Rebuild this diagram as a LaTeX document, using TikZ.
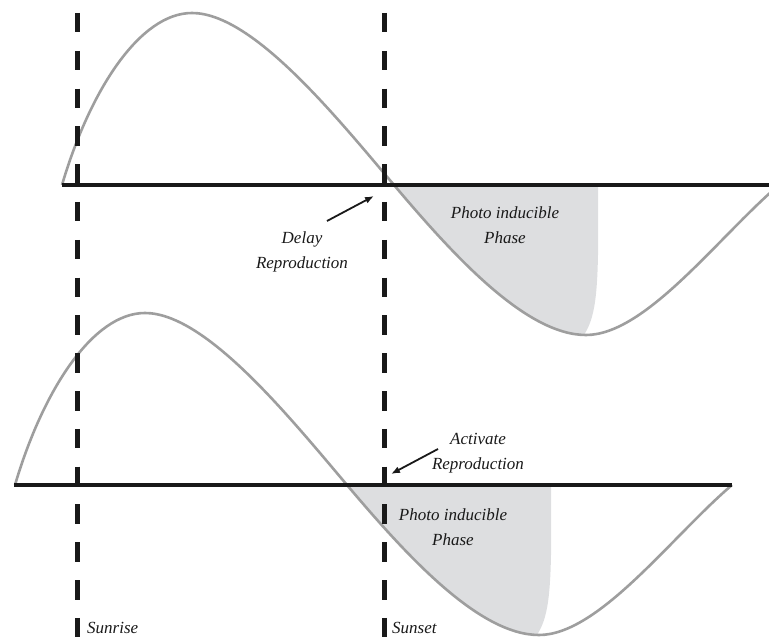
\documentclass[tikz,border=0pt]{standalone}
\usepackage{fontspec}
\setmainfont{Liberation Serif}
\usetikzlibrary{arrows.meta}
\definecolor{curvegray}{RGB}{158,158,158}
\definecolor{fillgray}{RGB}{221,222,224}
\definecolor{ink}{RGB}{25,25,25}
\begin{document}
\begin{tikzpicture}[x=1pt,y=-1pt,
  wavecurve/.style={draw=curvegray,line width=2.6pt},
  axisline/.style={draw=ink,line width=4.6pt},
  daylimit/.style={draw=ink,line width=5pt,dash pattern=on 19.5pt off 18.3pt},
  callout/.style={draw=ink,line width=1.8pt,-{Latex[length=9pt,width=7pt]}},
  lbl/.style={font=\fontsize{17}{25}\selectfont\itshape,text=ink,inner sep=0pt,align=center},
  wave/.pic={
    \begin{scope}
      \clip (394,185) .. controls (454,256) and (526,335) .. (586,335) .. controls (646,335) and (719,236) .. (779,185) -- cycle;
      \fill[fillgray] (390,180) -- (598,180) -- (598,255) .. controls (597,305) and (593,327) .. (578,342) -- (390,342) -- cycle;
    \end{scope}
    \draw[wavecurve] (62,185) .. controls (90,90) and (140,13) .. (192,13)
      .. controls (252,13) and (334,114) .. (394,185)
      .. controls (454,256) and (526,335) .. (586,335)
      .. controls (646,335) and (719,236) .. (779,185);
  }]
\useasboundingbox (0,0) rectangle (769,639);
\pic at (0,0) {wave};
\pic at (-47,300) {wave};
\draw[axisline] (62,185) -- (769,185);
\draw[axisline] (14,485) -- (732,485);
\draw[daylimit] (77,13) -- (77,639);
\draw[daylimit] (384,13) -- (384,639);
\node[lbl] (ph1) at (505,225) {Photo inducible\\Phase};
\node[lbl] (ph2) at (453,527) {Photo inducible\\Phase};
\node[lbl] (delay) at (302,251.5) {Delay\\Reproduction};
\node[lbl] (activate) at (478,453.5) {Activate\\Reproduction};
\node[lbl,anchor=base west] (sunrise) at (87,633) {Sunrise};
\node[lbl,anchor=base west] (sunset) at (392,633) {Sunset};
\coordinate (delaytail) at (327,221);
\coordinate (delayhead) at (374,196);
\draw[callout] (delaytail) -- (delayhead);
\coordinate (acttail) at (438,449);
\coordinate (acthead) at (391,474);
\draw[callout] (acttail) -- (acthead);
\end{tikzpicture}
\end{document}
